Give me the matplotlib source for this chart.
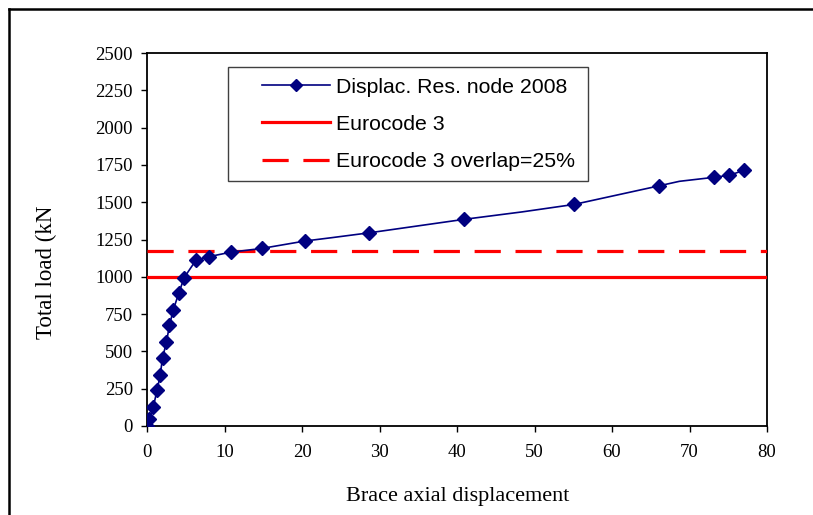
import numpy as np
import matplotlib.pyplot as plt
from matplotlib.lines import Line2D
from matplotlib.patches import Rectangle

# brace axial displacement vs total load (kN), node 2008
disp = [0, 0.3, 0.8, 1.3, 1.7, 2.0, 2.5, 2.9, 3.4, 4.1, 4.8, 6.3, 8.0, 10.8,
        14.8, 20.4, 23.8, 28.7, 40.9, 48.4, 55.1, 66.1, 68.7, 73.2, 75.1, 77.0]
load = [0, 50, 125, 240, 340, 455, 560, 675, 780, 890, 995, 1110, 1135, 1165,
        1190, 1240, 1262, 1295, 1385, 1435, 1485, 1610, 1640, 1667, 1680, 1713]
# intermediate steps drawn without a marker
unmarked = [16, 19, 22]
marked = [i for i in range(len(disp)) if i not in unmarked]

ec3_load = 1000
ec3_overlap_load = 1170

x_ticks = np.arange(0, 81, 10)
y_ticks = np.arange(0, 2501, 250)

serif = "Liberation Serif"
sans = "Liberation Sans"

W, H = 813, 515
fig = plt.figure(figsize=(W / 100, H / 100), dpi=100)
ax = fig.add_axes([147 / W, 1 - 426 / H, 620 / W, 373 / H])

navy = "#000080"
red = "#ff0000"

ax.plot(disp, load, color=navy, lw=1.2, marker="D", ms=7.5,
        markevery=marked, mfc=navy, mec=navy, zorder=4)
ln_ec3 = ax.axhline(ec3_load, color=red, lw=2.3, zorder=3)
ln_ov = ax.axhline(ec3_overlap_load, color=red, lw=2.3,
                   linestyle=(0, (8.2, 4.6)), zorder=3)

ax.set_xlim(0, 80)
ax.set_ylim(0, 2500)
ax.set_xticks(x_ticks)
ax.set_yticks(y_ticks)
ax.tick_params(direction="out", length=4, width=1, pad=6, labelsize=13.5)
ax.tick_params(axis="x", pad=9)
for lab in ax.get_xticklabels() + ax.get_yticklabels():
    lab.set_fontfamily(serif)
for s in ax.spines.values():
    s.set_linewidth(1.3)

fig.text(458 / W, 1 - 497 / H, "Brace axial displacement", family=serif,
         fontsize=16, ha="center", va="center")
fig.text(46 / W, 1 - 272 / H, "Total load (kN", family=serif, fontsize=16.5,
         rotation=90, ha="center", va="center")

# legend box
fig.add_artist(Rectangle((228 / W, 1 - 181 / H), 360 / W, 114 / H,
                         transform=fig.transFigure, facecolor="white",
                         edgecolor="#404040", lw=1.0, zorder=5))
data_handle = Line2D([], [], color=navy, lw=1.2, marker="D", ms=6.5,
                     mfc=navy, mec=navy)
leg = fig.legend([data_handle, ln_ec3, ln_ov],
                 ["Displac. Res. node 2008", "Eurocode 3",
                  "Eurocode 3 overlap=25%"],
                 loc="upper left", bbox_to_anchor=(251 / W, 1 - 67 / H),
                 frameon=False, prop={"family": sans, "size": 15.3},
                 numpoints=1, handlelength=3.2, handletextpad=0.3,
                 labelspacing=0.86, borderpad=0.0)
leg.set_zorder(6)

# outer frame
fig.add_artist(Line2D([9 / W, 9 / W], [0, 1 - 9 / H], color="black", lw=1.8,
                      transform=fig.transFigure))
fig.add_artist(Line2D([9 / W, 1], [1 - 9 / H, 1 - 9 / H], color="black", lw=1.8,
                      transform=fig.transFigure))

fig.savefig("out.png", dpi=100)
